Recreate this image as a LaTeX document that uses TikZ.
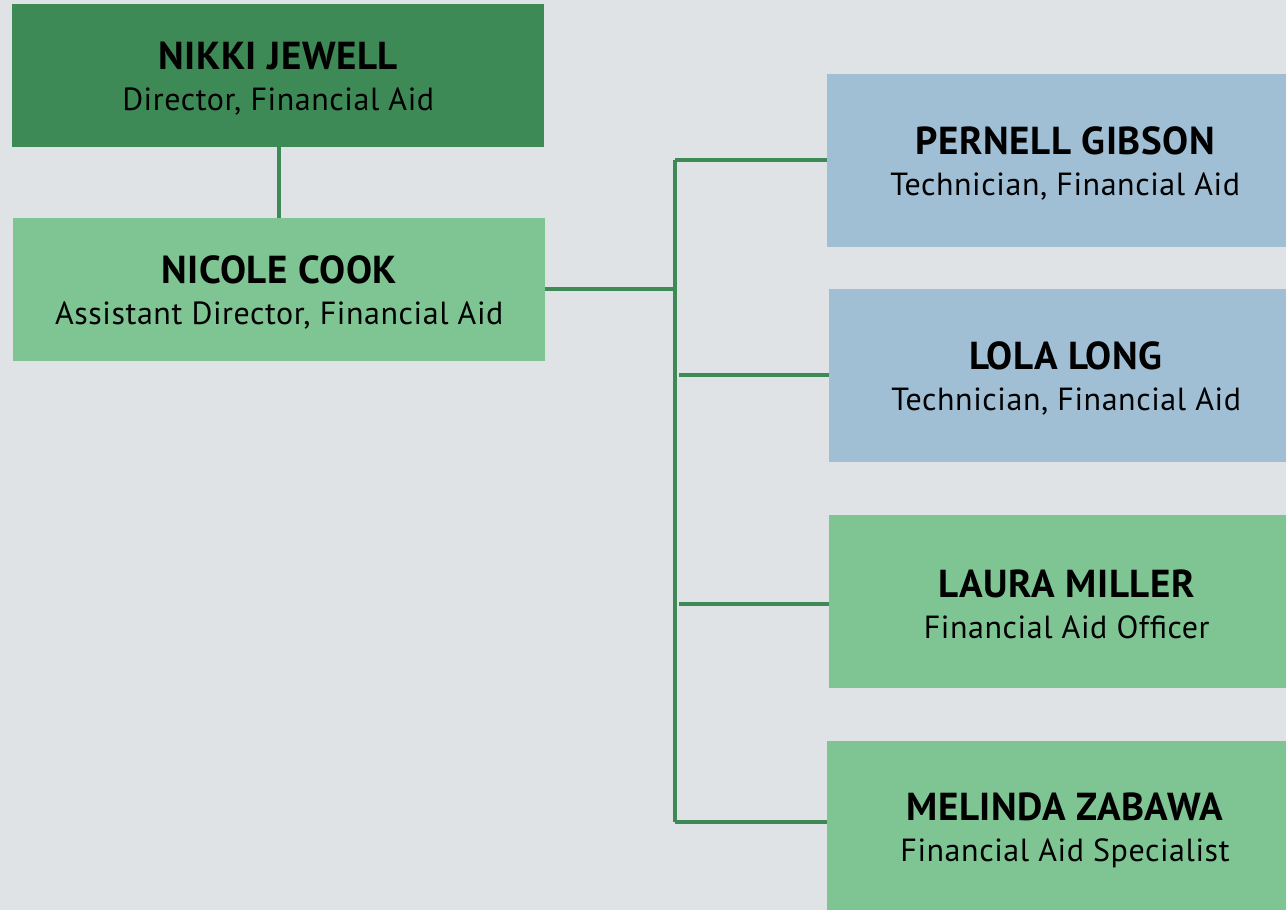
\documentclass[tikz,border=0pt]{standalone}
\usepackage{fontspec}
\setmainfont{PT Sans}
\newfontfamily\subfont[LetterSpace=1.8]{PT Sans}
\newfontfamily\namefont[LetterSpace=1.5]{PT Sans}
\newcommand{\nm}[1]{{\namefont\fontsize{39}{40}\selectfont\bfseries #1}}
\definecolor{bg}{RGB}{223,227,230}
\definecolor{dkgreen}{RGB}{62,138,87}
\definecolor{ltgreen}{RGB}{126,197,147}
\definecolor{ltblue}{RGB}{160,191,213}
\begin{document}
\begin{tikzpicture}[x=1pt,y=-1pt,
  box/.style={draw=none,rectangle,inner sep=0pt,anchor=north west},
  txt/.style={align=center,text=black,font=\subfont\fontsize{32}{41}\selectfont,inner sep=0pt},
  conn/.style={draw=dkgreen,line width=3.6pt}]
\useasboundingbox (0,0) rectangle (1286,910);
\fill[bg] (0,0) rectangle (1286,910);
\begin{scope}
\clip (0,0) rectangle (1286,910);
% boxes
\node[box,fill=dkgreen,minimum width=532pt,minimum height=143pt] (nikki) at (12,4) {};
\node[box,fill=ltgreen,minimum width=532pt,minimum height=143pt] (nicole) at (13,218) {};
\node[box,fill=ltblue,minimum width=459pt,minimum height=173pt] (pernell) at (827,74) {};
\node[box,fill=ltblue,minimum width=457pt,minimum height=173pt] (lola) at (829,289) {};
\node[box,fill=ltgreen,minimum width=457pt,minimum height=173pt] (laura) at (829,515) {};
\node[box,fill=ltgreen,minimum width=459pt,minimum height=173pt] (melinda) at (827,741) {};
% texts
\node[txt] (tnikki) at ([yshift=-3pt]nikki.center) {\nm{NIKKI JEWELL}\\Director, Financial Aid};
\node[txt] (tnicole) at ([yshift=-3pt]nicole.center) {\nm{NICOLE COOK}\\Assistant Director, Financial Aid};
\node[txt] (tpernell) at ([xshift=8.5pt,yshift=-3pt]pernell.center) {\nm{PERNELL GIBSON}\\Technician, Financial Aid};
\node[txt] (tlola) at ([xshift=8.5pt,yshift=-3pt]lola.center) {\nm{LOLA LONG}\\Technician, Financial Aid};
\node[txt] (tlaura) at ([xshift=9pt,yshift=-3pt]laura.center) {\nm{LAURA MILLER}\\Financial Aid Officer};
\node[txt] (tmelinda) at (1065,830) {\nm{MELINDA ZABAWA}\\Financial Aid Specialist};
\end{scope}
% connectors
\coordinate (bus) at (675,289);
\coordinate (b1) at (675,160);
\coordinate (b2) at (679,375);
\coordinate (b3) at (679,604);
\coordinate (b4) at (675,822);
\draw[conn] (nikki.south -| 279,0) -- (nicole.north -| 279,0);
\draw[conn] (nicole.east |- bus) -- (bus);
\draw[conn] (b1) -- (b4);
\draw[conn] (b1) -- (pernell.west |- b1);
\draw[conn] (b2) -- (lola.west |- b2);
\draw[conn] (b3) -- (laura.west |- b3);
\draw[conn] (b4) -- (melinda.west |- b4);
\end{tikzpicture}
\end{document}
